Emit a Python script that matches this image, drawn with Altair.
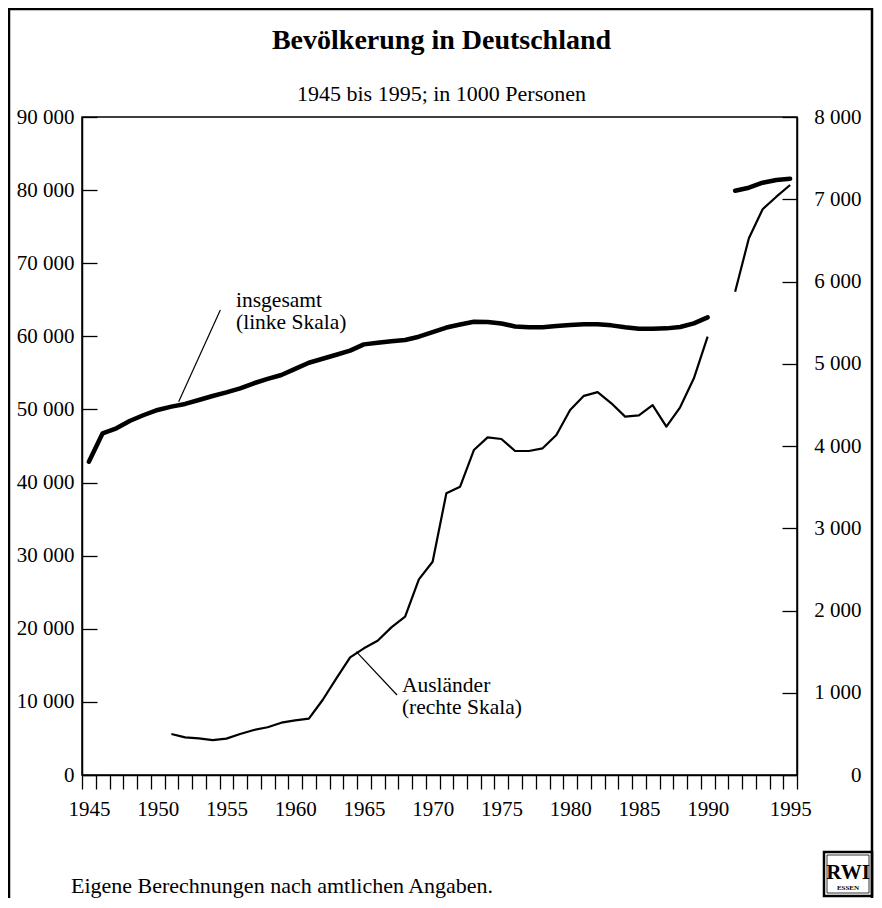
import altair as alt
import pandas as pd

# ---------------- data (1000 persons) ----------------
years_west = list(range(1945, 1991))
total_west = [42850, 46740, 47420, 48460, 49240, 49930, 50380, 50750, 51290, 51840,
              52340, 52890, 53580, 54170, 54710, 55550, 56390, 56930, 57480, 58040,
              58900, 59110, 59320, 59500, 59950, 60580, 61200, 61620, 62000, 61960,
              61760, 61350, 61250, 61230, 61410, 61550, 61660, 61640, 61500, 61230,
              61050, 61050, 61090, 61280, 61780, 62600]
years_foreign_west = list(range(1951, 1991))
foreign_west = [498, 458, 446, 425, 442, 498, 547, 580, 636, 665,
                685, 912, 1175, 1431, 1540, 1633, 1795, 1925, 2379, 2593,
                3425, 3505, 3951, 4105, 4085, 3939, 3939, 3972, 4134, 4438,
                4610, 4655, 4519, 4357, 4373, 4498, 4235, 4470, 4823, 5329]
years_united = [1991, 1992, 1993, 1994, 1995]
total_united = [79920, 80330, 81010, 81380, 81560]
foreign_united = [5876, 6525, 6878, 7031, 7173]

x_ticks = list(range(1945, 1998))
left_ticks = list(range(0, 90001, 10000))
right_ticks = list(range(0, 8001, 1000))

title_text = "Bevölkerung in Deutschland"
subtitle_text = "1945 bis 1995; in 1000 Personen"
footer_text = "Eigene Berechnungen nach amtlichen Angaben."
label_total = "insgesamt\n(linke Skala)"
label_foreign = "Ausländer\n(rechte Skala)"

# annotation anchors (x in year units, y in the value units of each scale)
ann_total = {"x": [1956.2], "y": [64050], "t": [label_total]}
lead_total = {"x": [1955.06], "y": [63600], "x2": [1952.03], "y2": [51060]}
ann_foreign = {"x": [1968.27], "y": [1009], "t": [label_foreign]}
lead_foreign = {"x": [1964.95], "y": [1499], "x2": [1967.91], "y2": [973]}

df_total = pd.DataFrame({
    "year": years_west + years_united,
    "total": total_west + total_united,
    "seg": ["West"] * len(years_west) + ["Gesamt"] * len(years_united),
})
df_foreign = pd.DataFrame({
    "year": years_foreign_west + years_united,
    "foreign": foreign_west + foreign_united,
    "seg": ["West"] * len(years_foreign_west) + ["Gesamt"] * len(years_united),
})

FONT = "Liberation Serif"
W, H = 715, 658

xscale = alt.Scale(domain=[1945, 1997], nice=False, zero=False)
xaxis = alt.Axis(
    values=x_ticks, format="d",
    labelExpr="(datum.value % 5 == 0 && datum.value <= 1990) ? datum.label : (datum.value == 1996 ? '1995' : '')",
    labelOffset=6.875, labelFontSize=21, labelPadding=9, labelFont=FONT, labelColor="black",
    tickSize=14, tickWidth=1.3, tickColor="black", domainColor="black", domainWidth=1.5,
    labelOverlap=False, labelFlush=False, grid=False, title=None,
)
num_expr = "replace(format(datum.value, ','), ',', ' ')"
lscale = alt.Scale(domain=[0, 90000], nice=False, zero=True)
laxis = alt.Axis(
    orient="left", values=left_ticks, labelExpr=num_expr, ticks=False, tickSize=0,
    labelPadding=8, labelFontSize=21, labelFont=FONT, labelColor="black", labelFlush=False,
    grid=True, gridDash=[15, 3000], gridColor="black", gridWidth=1.3, gridOpacity=1,
    domainColor="black", domainWidth=1.5, title=None,
)
rscale = alt.Scale(domain=[0, 8000], nice=False, zero=True)
raxis = alt.Axis(
    orient="right", values=right_ticks, labelExpr=num_expr, ticks=False, tickSize=0,
    labelAlign="right", labelPadding=64, labelFontSize=21, labelFont=FONT, labelColor="black",
    labelFlush=False, grid=True, gridDash=[15, 3000], gridColor="black", gridWidth=1.3,
    gridOpacity=1, domainColor="black", domainWidth=1.5, title=None,
)

slot_expr = "datum.year + 0.5 + (datum.year > 1990 ? 1 : 0)"

def X(f):
    return alt.X(f"{f}:Q", scale=xscale, axis=xaxis)

def YL(f):
    return alt.Y(f"{f}:Q", scale=lscale, axis=laxis)

def YR(f):
    return alt.Y(f"{f}:Q", scale=rscale, axis=raxis)

one = pd.DataFrame({"a": [0]})

thick = alt.Chart(df_total).transform_calculate(slot=slot_expr).mark_line(
    color="black", strokeWidth=4.5, strokeJoin="round", strokeCap="round"
).encode(x=X("slot"), y=YL("total"), detail="seg:N")

lead_l = alt.Chart(pd.DataFrame(lead_total)).mark_rule(color="black", strokeWidth=1.2).encode(
    x=X("x"), y=YL("y"), x2="x2:Q", y2="y2:Q")
text_l = alt.Chart(pd.DataFrame(ann_total)).mark_text(
    align="left", baseline="alphabetic", font=FONT, fontSize=21.5, lineBreak="\n",
    lineHeight=22, color="black").encode(x=X("x"), y=YL("y"), text="t:N")

title_mark = alt.Chart(one).mark_text(
    align="center", baseline="alphabetic", font=FONT, fontSize=28, fontWeight="bold",
    color="black").encode(x=alt.value(W / 2 + 2), y=alt.value(-68), text=alt.value(title_text))
subtitle_mark = alt.Chart(one).mark_text(
    align="center", baseline="alphabetic", font=FONT, fontSize=22,
    color="black").encode(x=alt.value(W / 2 + 2), y=alt.value(-16), text=alt.value(subtitle_text))

frame = alt.Chart(one).mark_rect(
    fillOpacity=0, stroke="black", strokeWidth=2.5).encode(
    x=alt.value(-73), x2=alt.value(W + 75), y=alt.value(-108), y2=alt.value(H + 200))
footer = alt.Chart(one).mark_text(
    align="left", baseline="alphabetic", font=FONT, fontSize=22, color="black").encode(
    x=alt.value(-11), y=alt.value(H + 118), text=alt.value(footer_text))
logo_box = alt.Chart(one).mark_rect(
    fillOpacity=0, stroke="black", strokeWidth=2.5).encode(
    x=alt.value(W + 27), x2=alt.value(W + 75), y=alt.value(H + 77), y2=alt.value(H + 121))
logo_inner = alt.Chart(one).mark_rect(
    fillOpacity=0, stroke="black", strokeWidth=0.8).encode(
    x=alt.value(W + 30), x2=alt.value(W + 72), y=alt.value(H + 80), y2=alt.value(H + 118))
logo_rwi = alt.Chart(one).mark_text(
    align="center", baseline="alphabetic", font=FONT, fontSize=21, fontWeight="bold",
    color="black").encode(x=alt.value(W + 51), y=alt.value(H + 104), text=alt.value("RWI"))
logo_essen = alt.Chart(one).mark_text(
    align="center", baseline="alphabetic", font=FONT, fontSize=7, fontWeight="bold",
    color="black").encode(x=alt.value(W + 51), y=alt.value(H + 115), text=alt.value("ESSEN"))

thin = alt.Chart(df_foreign).transform_calculate(slot=slot_expr).mark_line(
    color="black", strokeWidth=2.2, strokeJoin="round"
).encode(x=X("slot"), y=YR("foreign"), detail="seg:N")
lead_r = alt.Chart(pd.DataFrame(lead_foreign)).mark_rule(color="black", strokeWidth=1.2).encode(
    x=X("x"), y=YR("y"), x2="x2:Q", y2="y2:Q")
text_r = alt.Chart(pd.DataFrame(ann_foreign)).mark_text(
    align="left", baseline="alphabetic", font=FONT, fontSize=21.5, lineBreak="\n",
    lineHeight=22, color="black").encode(x=X("x"), y=YR("y"), text="t:N")

left_group = alt.layer(thick, lead_l, text_l, title_mark, subtitle_mark, frame, footer,
                       logo_box, logo_inner, logo_rwi, logo_essen)
right_group = alt.layer(thin, lead_r, text_r)

chart = alt.layer(left_group, right_group).resolve_scale(y="independent").properties(
    width=W, height=H,
    padding={"left": 74, "top": 109, "right": 77, "bottom": 123},
    autosize=alt.AutoSizeParams(type="none"),
    background="white",
).configure_view(stroke="black", strokeWidth=1.5)

chart.save("out.html", embed_options={"renderer": "svg", "actions": False})
